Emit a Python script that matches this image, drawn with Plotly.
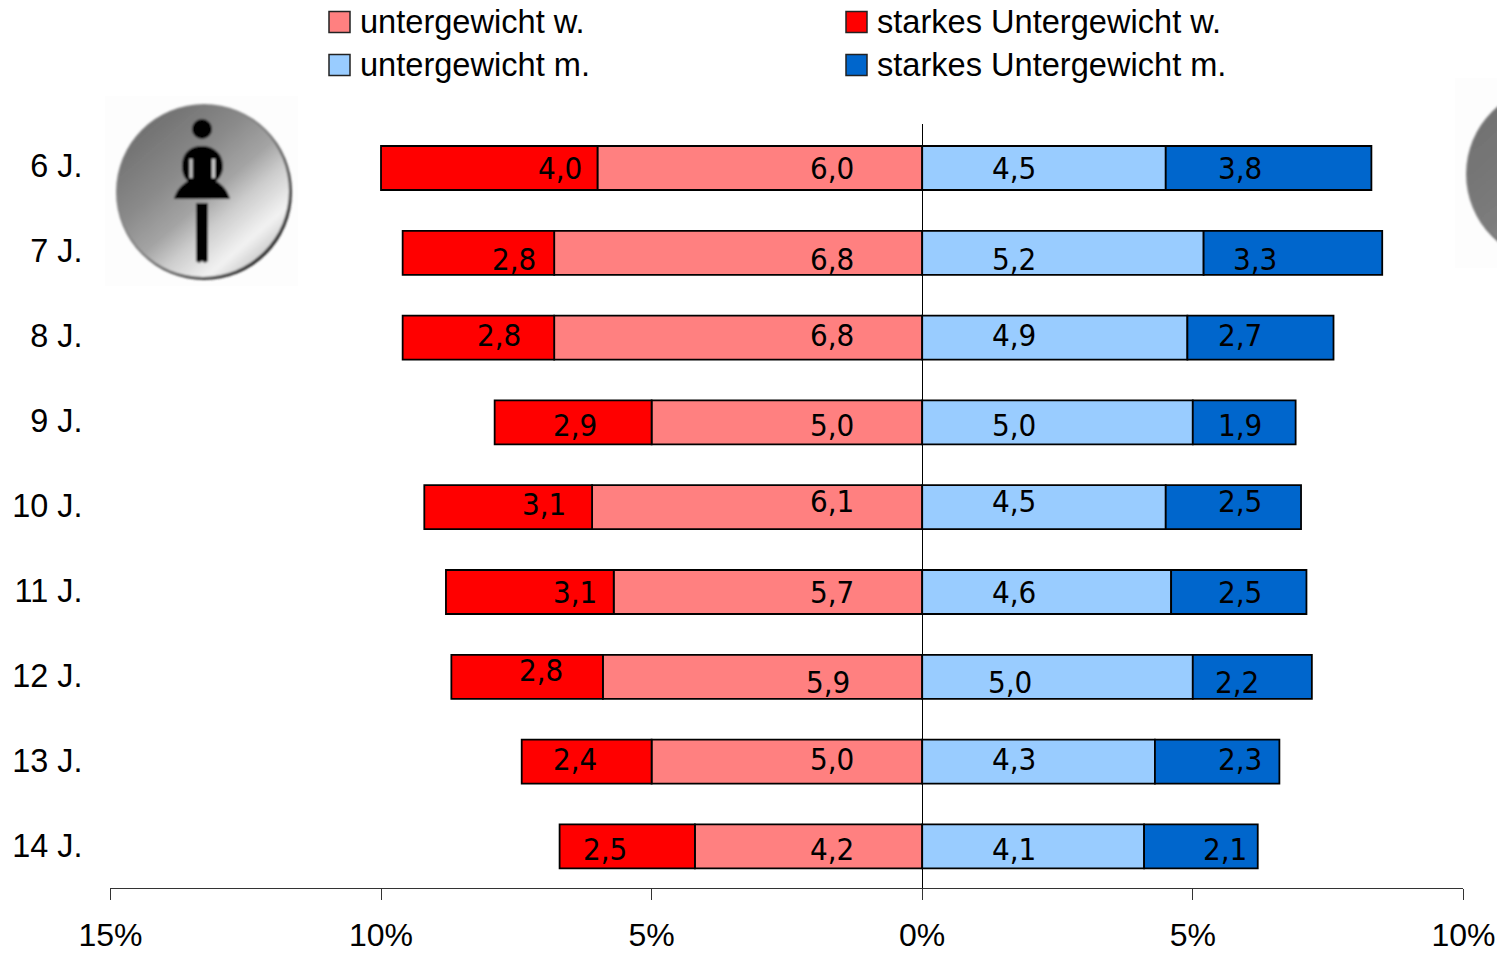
import base64
import plotly.graph_objects as go

# ---- data ----
ages = ["6 J.", "7 J.", "8 J.", "9 J.", "10 J.", "11 J.", "12 J.", "13 J.", "14 J."]
under_w = [6.0, 6.8, 6.8, 5.0, 6.1, 5.7, 5.9, 5.0, 4.2]
severe_w = [4.0, 2.8, 2.8, 2.9, 3.1, 3.1, 2.8, 2.4, 2.5]
under_m = [4.5, 5.2, 4.9, 5.0, 4.5, 4.6, 5.0, 4.3, 4.1]
severe_m = [3.8, 3.3, 2.7, 1.9, 2.5, 2.5, 2.2, 2.3, 2.1]
tick_vals = [-15, -10, -5, 0, 5, 10]
tick_text = ["15%", "10%", "5%", "0%", "5%", "10%"]

# ---- page layout (pixels) ----
W, H = 1497, 953
X_L, X_R = 110.4, 1463.4
Y_T, Y_B = 124, 888
px_per_pct = (X_R - X_L) / 25
zero_px = X_L + 15 * px_per_pct
def pct(px):
    return (px - zero_px) / px_per_pct

# rows: bar centres sit 84.8 px apart starting at 168; age labels 85 px apart starting at 166
ROW_0, ROW_STEP = 168, 84.8
LABEL_0, LABEL_STEP = 166, 85
y_range = [(Y_B - ROW_0) / ROW_STEP, (Y_T - ROW_0) / ROW_STEP]

# hand-placed value label positions, as in the reference
lx_severe_w = [560, 514, 499, 575, 544, 575, 541, 575, 605]
lx_under_w = [832, 832, 832, 832, 832, 832, 828, 832, 832]
lx_under_m = [1014, 1014, 1014, 1014, 1014, 1014, 1010, 1014, 1014]
lx_severe_m = [1240, 1255, 1240, 1240, 1240, 1240, 1237, 1240, 1225]
ly_severe_w = [168, 259, 335, 425, 504, 592, 670, 759, 849]
ly_others = [168, 259, 335, 425, 501, 592, 682, 759, 849]

RED, PINK, LBLUE, BLUE = "#FF0000", "#FF8080", "#99CCFF", "#0066CC"
FONT = "Liberation Sans"
LABEL_FONT = "DejaVu Sans Condensed, DejaVu Sans"

def comma(v):
    return f"{v:.1f}".replace(".", ",")

def disc_svg(stops, figure=""):
    svg = f'''<svg xmlns="http://www.w3.org/2000/svg" width="210" height="200" viewBox="0 0 210 200">
<defs>
<linearGradient id="g" x1="0.12" y1="0.08" x2="0.85" y2="0.92">{stops}</linearGradient>
<linearGradient id="r" x1="0.1" y1="0.1" x2="0.9" y2="0.9">
<stop offset="0" stop-color="#8a8a8a"/><stop offset="0.5" stop-color="#777777"/><stop offset="1" stop-color="#1e1e1e"/>
</linearGradient>
<filter id="b"><feGaussianBlur stdDeviation="1"/></filter>
</defs>
<rect x="5" y="5" width="193" height="190" fill="#fdfdfd"/>
<g filter="url(#b)">
<circle cx="104" cy="101" r="88" fill="url(#r)"/>
<circle cx="103" cy="100" r="86" fill="url(#g)"/>
{figure}
</g></svg>'''
    return "data:image/svg+xml;base64," + base64.b64encode(svg.encode()).decode()

left_stops = '''<stop offset="0" stop-color="#6c6c6c"/><stop offset="0.35" stop-color="#8a8a8a"/>
<stop offset="0.55" stop-color="#a4a4a4"/><stop offset="0.68" stop-color="#cccccc"/>
<stop offset="0.86" stop-color="#f2f2f2"/><stop offset="1" stop-color="#c4c4c4"/>'''
right_stops = '''<stop offset="0" stop-color="#707070"/><stop offset="0.5" stop-color="#7c7c7c"/>
<stop offset="1" stop-color="#b0b0b0"/>'''

woman = '''<circle cx="102" cy="38" r="10" fill="#000"/>
<path d="M102 55 C90 55 82 62 82 75 C82 83 85 88 88 90 C81 94 76 100 74 108 L130 108 C128 100 123 94 116 90 C120 87 123 82 123 75 C123 62 113 55 102 55Z" fill="#000"/>
<rect x="89.5" y="68" width="3" height="19" fill="#ccc"/><rect x="112" y="68" width="3" height="19" fill="#ccc"/>
<path d="M96 112 H108 V170 L105 172 L102 170 L99 172 L96 170Z" fill="#000"/>'''

fig = go.Figure()
for name, vals, sign, col in [
    ("untergewicht w.", under_w, -1, PINK),
    ("starkes Untergewicht w.", severe_w, -1, RED),
    ("untergewicht m.", under_m, 1, LBLUE),
    ("starkes Untergewicht m.", severe_m, 1, BLUE),
]:
    fig.add_trace(go.Bar(
        y=ages, x=[sign * v for v in vals], name=name, orientation="h",
        marker=dict(color=col, line=dict(color="#000000", width=1.8)),
        showlegend=False, hoverinfo="skip",
    ))

ann = []
for i, age in enumerate(ages):
    center = ROW_0 + i * ROW_STEP
    for lx, ly, vals in [
        (lx_severe_w, ly_severe_w, severe_w),
        (lx_under_w, ly_others, under_w),
        (lx_under_m, ly_others, under_m),
        (lx_severe_m, ly_others, severe_m),
    ]:
        ann.append(dict(
            x=pct(lx[i]), y=age, xref="x", yref="y", text=comma(vals[i]),
            showarrow=False, xanchor="center", yanchor="middle",
            yshift=center - ly[i], font=dict(family=LABEL_FONT, size=31, color="#000000"),
        ))

# legend (2 x 2, with the reference's large swatches)
shapes = []
for sx, sy, col, text in [
    (329, 22, PINK, "untergewicht w."),
    (846, 22, RED, "starkes Untergewicht w."),
    (329, 65, LBLUE, "untergewicht m."),
    (846, 65, BLUE, "starkes Untergewicht m."),
]:
    shapes.append(dict(
        type="rect", xref="paper", yref="paper",
        x0=sx / W, x1=(sx + 21) / W, y0=1 - (sy - 10.5) / H, y1=1 - (sy + 10.5) / H,
        fillcolor=col, line=dict(color="#222222", width=1.5),
    ))
    ann.append(dict(
        x=(sx + 28.5) / W, y=1 - (sy - 0.5) / H, xref="paper", yref="paper", text=text,
        showarrow=False, xanchor="left", yanchor="middle",
        font=dict(family=FONT, size=32.6, color="#000000"),
    ))

images = [
    dict(source=disc_svg(left_stops, woman), xref="paper", yref="paper", x=100 / W, y=1 - 91 / H,
         sizex=210 / W, sizey=200 / H, xanchor="left", yanchor="top", sizing="stretch", layer="below"),
    dict(source=disc_svg(right_stops), xref="paper", yref="paper", x=1450 / W, y=1 - 73 / H,
         sizex=210 / W, sizey=200 / H, xanchor="left", yanchor="top", sizing="stretch", layer="below"),
]

fig.update_layout(
    width=W, height=H, margin=dict(l=0, r=0, t=0, b=0, autoexpand=False),
    paper_bgcolor="#FFFFFF", plot_bgcolor="rgba(0,0,0,0)",
    barmode="relative", bargap=0.481, showlegend=False,
    font=dict(family=FONT, size=32, color="#000000"),
    annotations=ann, shapes=shapes, images=images,
    xaxis=dict(
        domain=[X_L / W, X_R / W], range=[-15, 10], tickmode="array",
        tickvals=tick_vals, ticktext=tick_text, ticks="outside", ticklen=11,
        tickwidth=1, tickcolor="#333333", showline=True, linecolor="#333333", linewidth=1,
        showgrid=False, zeroline=True, zerolinecolor="#000000", zerolinewidth=1,
        ticklabelstandoff=8, tickfont=dict(family=FONT, size=32, color="#000000"),
    ),
    yaxis=dict(
        domain=[1 - Y_B / H, 1 - Y_T / H], categoryorder="array", categoryarray=ages,
        range=y_range, showgrid=False, showline=False, zeroline=False,
        tickmode="array", ticktext=ages,
        tickvals=[(LABEL_0 + i * LABEL_STEP - ROW_0) / ROW_STEP for i in range(len(ages))],
        ticks="", ticklabelstandoff=27, tickfont=dict(family=FONT, size=32.4, color="#000000"),
    ),
)
fig.write_html(
    "out.html", config={"displayModeBar": False},
    post_script="document.body.style.margin='0';document.documentElement.style.overflow='hidden';",
)
